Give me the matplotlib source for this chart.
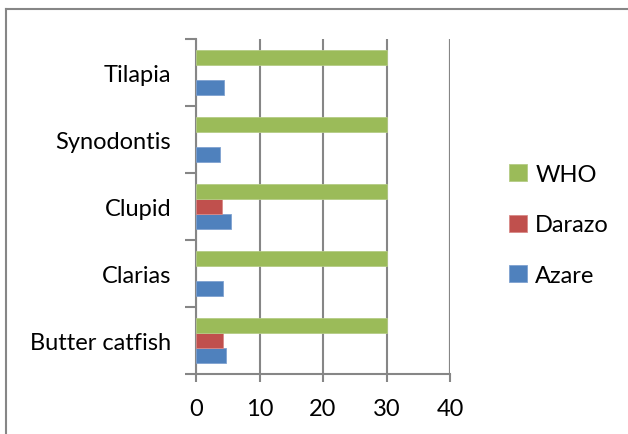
import matplotlib
matplotlib.use("Agg")
import matplotlib.pyplot as plt
from matplotlib.lines import Line2D
import numpy as np

categories = ["Butter catfish", "Clarias", "Clupid", "Synodontis", "Tilapia"]
azare = [4.65, 4.3, 5.45, 3.8, 4.45]
darazo = [4.3, 0, 4.1, 0, 0]
who = [30, 30, 30, 30, 30]
series_names = ["Azare", "Darazo", "WHO"]
x_ticks = [0, 10, 20, 30, 40]

colors = {"Azare": "#4F81BD", "Darazo": "#C0504D", "WHO": "#9BBB59"}
edges = {"Azare": "#7FA2D0", "Darazo": "#D88A88", "WHO": "#B5CC85"}
grey = "#868686"
font = "Lato"
fsize = 17

fig = plt.figure(figsize=(6.28, 4.35), dpi=100)
ax = fig.add_axes([196 / 628, 1 - 375 / 435, 254 / 628, 335 / 435])

y = np.arange(len(categories))
h = 0.224
for i, (name, vals) in enumerate(zip(series_names, [azare, darazo, who])):
    vals = np.asarray(vals, dtype=float)
    lw = np.where(vals > 0, 0.6, 0.0)
    ax.barh(y + (i - 1) * h, vals, height=h, color=colors[name],
            edgecolor=edges[name], linewidth=lw, label=name, zorder=3)

ax.set_xlim(0, 40)
ax.set_ylim(-0.5, len(categories) - 0.5)
ax.set_xticks(x_ticks)
ax.set_xticklabels([str(t) for t in x_ticks], fontname=font, fontsize=fsize)
ax.set_yticks(np.arange(-0.5, len(categories)), labels=[""] * (len(categories) + 1))
ax.set_yticks(y, labels=categories, minor=True)
for lab in ax.get_yticklabels(minor=True):
    lab.set_fontname(font)
    lab.set_fontsize(fsize)
ax.tick_params(axis="y", which="major", length=8, width=1.5, color=grey, direction="out")
ax.tick_params(axis="y", which="minor", length=0, pad=18)
ax.tick_params(axis="x", length=6, width=1.5, color=grey, direction="out", pad=11)

ax.grid(axis="x", color=grey, linewidth=1.5, zorder=0)
for s in ["top", "right"]:
    ax.spines[s].set_visible(False)
for s in ["left", "bottom"]:
    ax.spines[s].set_color(grey)
    ax.spines[s].set_linewidth(1.5)
ax.axvline(40, color=grey, linewidth=1.5, zorder=0)

handles, labels = ax.get_legend_handles_labels()
leg = fig.legend(handles[::-1], labels[::-1], loc="center left",
                 bbox_to_anchor=(488 / 628, 1 - 226 / 435), frameon=False,
                 prop={"family": font, "size": fsize}, handlelength=0.75,
                 handleheight=0.75, labelspacing=1.25, handletextpad=0.35)

# outer chart frame (top and left edges)
fig.add_artist(Line2D([6 / 628, 1], [1 - 10 / 435] * 2, color=grey, linewidth=1.5))
fig.add_artist(Line2D([6 / 628] * 2, [0, 1 - 10 / 435], color=grey, linewidth=1.5))

fig.savefig("out.png", dpi=100)
